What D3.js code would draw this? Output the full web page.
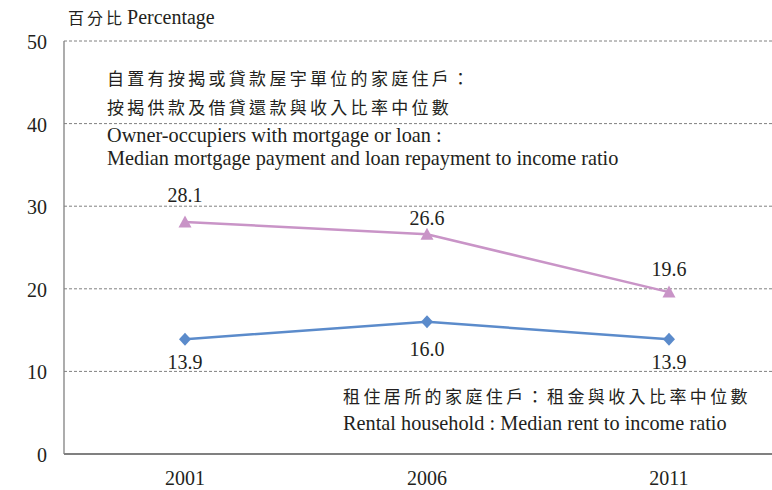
<!DOCTYPE html>
<html><head><meta charset="utf-8">
<script src="https://cdn.jsdelivr.net/npm/d3@7"></script>
<style>body{margin:0;background:#fff}svg{display:block}</style>
</head><body>
<svg id="c" width="772" height="490"></svg>
<script>
const years = ["2001", "2006", "2011"];
const mortgageRatio = [28.1, 26.6, 19.6];
const rentRatio = [13.9, 16.0, 13.9];
const yTicks = [0, 10, 20, 30, 40, 50];

const svg = d3.select("#c");
const serif = "'Liberation Serif', 'Times New Roman', serif";
const cjk = "'Noto Sans CJK TC', sans-serif";
const ink = "#231f20";

const x = d3.scalePoint().domain(years).range([185, 669]);
const y = d3.scaleLinear().domain([0, 50]).range([454, 41]);
const left = 64, right = 800;

// gridlines
svg.append("g").selectAll("line").data(yTicks.filter(d => d > 0)).join("line")
  .attr("x1", left).attr("x2", right)
  .attr("y1", d => y(d)).attr("y2", d => y(d))
  .attr("stroke", "#808080").attr("stroke-width", 1).attr("stroke-dasharray", "3,2");

// axes lines
svg.append("line").attr("x1", left).attr("x2", left).attr("y1", y(50)).attr("y2", y(0))
  .attr("stroke", "#808080").attr("stroke-width", 1.3);
svg.append("line").attr("x1", left).attr("x2", right).attr("y1", y(0)).attr("y2", y(0))
  .attr("stroke", "#808080").attr("stroke-width", 2);

// y tick labels
svg.append("g").selectAll("text").data(yTicks).join("text")
  .attr("x", 47).attr("y", d => y(d) + 1).attr("dy", "0.35em")
  .attr("text-anchor", "end").attr("font-family", serif).attr("font-size", 20).attr("fill", ink)
  .text(d => d);

// x labels
svg.append("g").selectAll("text").data(years).join("text")
  .attr("x", d => x(d)).attr("y", 478).attr("dy", "0.35em")
  .attr("text-anchor", "middle").attr("font-family", serif).attr("font-size", 20).attr("fill", ink)
  .text(d => d);

// title
const t = svg.append("text").attr("x", 68).attr("y", 18).attr("dy", "0.35em").attr("fill", ink);
t.append("tspan").attr("font-family", cjk).attr("font-size", 16).attr("letter-spacing", 3).text("百分比");
t.append("tspan").attr("font-family", serif).attr("font-size", 20).attr("dx", 2).text("Percentage");

const triPath = "M0,-6.5L6.5,5.5L-6.5,5.5Z";
const diaPath = "M0,-6.5L6,0L0,6.5L-6,0Z";

function series(vals, color, shape, labelDy) {
  const pts = vals.map((v, i) => [x(years[i]), y(v)]);
  svg.append("path").attr("d", d3.line()(pts)).attr("fill", "none")
    .attr("stroke", color).attr("stroke-width", 2.5);
  svg.append("g").selectAll("path").data(pts).join("path")
    .attr("transform", d => `translate(${d[0]},${d[1]})`)
    .attr("d", shape).attr("fill", color);
  svg.append("g").selectAll("text").data(vals).join("text")
    .attr("x", (d, i) => x(years[i])).attr("y", (d, i) => y(d) + labelDy[i]).attr("dy", "0.35em")
    .attr("text-anchor", "middle").attr("font-family", serif).attr("font-size", 20).attr("fill", ink)
    .text(d => d.toFixed(1));
}
series(mortgageRatio, "#c994c7", triPath, [-27, -16, -23]);
series(rentRatio, "#5b8bcb", diaPath, [23, 27, 23]);

// annotations
function ann(txt, xx, yy, font, size, ls) {
  svg.append("text").attr("x", xx).attr("y", yy).attr("dy", "0.35em")
    .attr("font-family", font).attr("font-size", size).attr("letter-spacing", ls).attr("fill", ink)
    .text(txt);
}
ann("自置有按揭或貸款屋宇單位的家庭住戶：", 107, 79, cjk, 17, 3.3);
ann("按揭供款及借貸還款與收入比率中位數", 107, 108, cjk, 17, 3.3);
ann("Owner-occupiers with mortgage or loan :", 107, 135, serif, 20.3, 0);
ann("Median mortgage payment and loan repayment to income ratio", 107, 158, serif, 20.3, 0);
ann("租住居所的家庭住戶：租金與收入比率中位數", 343, 397, cjk, 17, 3.4);
ann("Rental household : Median rent to income ratio", 343, 423, serif, 20.3, 0);
</script>
</body></html>
